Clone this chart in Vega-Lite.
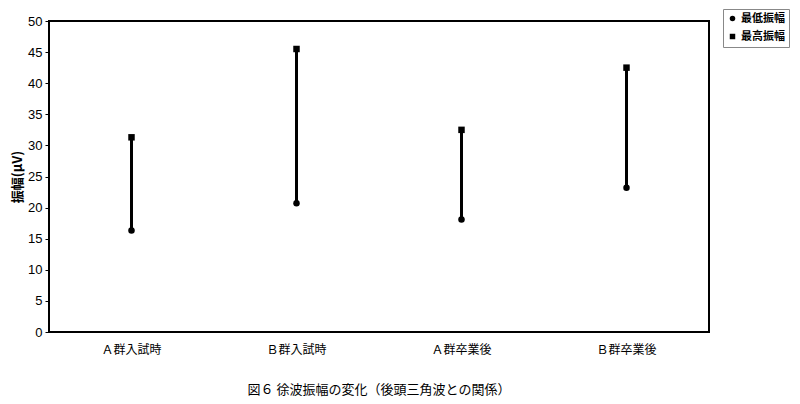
{
  "$schema": "https://vega.github.io/schema/vega-lite/v6.json",
  "width": 660,
  "height": 311,
  "autosize": "none",
  "padding": {"left": 49, "top": 21, "right": 91, "bottom": 72},
  "background": "white",
  "data": {"values": [
    {"group": "Ａ群入試時", "最低振幅": 16.3, "最高振幅": 31.3},
    {"group": "Ｂ群入試時", "最低振幅": 20.7, "最高振幅": 45.5},
    {"group": "Ａ群卒業後", "最低振幅": 18.1, "最高振幅": 32.5},
    {"group": "Ｂ群卒業後", "最低振幅": 23.2, "最高振幅": 42.5}
  ]},
  "title": {
    "text": "図６ 徐波振幅の変化（後頭三角波との関係）",
    "orient": "bottom",
    "anchor": "middle",
    "font": "Noto Sans CJK JP",
    "fontSize": 13,
    "fontWeight": "normal",
    "color": "black",
    "offset": 29
  },
  "config": {
    "view": {"stroke": "black", "strokeWidth": 2},
    "axis": {"domain": false, "grid": false, "labelColor": "black", "titleColor": "black", "tickColor": "black"}
  },
  "layer": [
    {
      "mark": {"type": "rule", "strokeWidth": 3, "color": "black"},
      "encoding": {
        "x": {"field": "group", "type": "nominal", "sort": null,
              "axis": {"title": null, "labelAngle": 0, "ticks": false, "labelPadding": 12,
                       "labelFont": "Noto Sans CJK JP", "labelFontSize": 12}},
        "y": {"field": "最低振幅", "type": "quantitative",
              "scale": {"domain": [0, 50], "nice": false},
              "axis": {"values": [0,5,10,15,20,25,30,35,40,45,50], "labelOverlap": false, "title": "振幅(μV)",
                       "titleFont": "Noto Sans CJK JP", "titleFontSize": 13, "titleFontWeight": "bold",
                       "titlePadding": 3, "labelFont": "Liberation Sans", "labelFontSize": 13,
                       "tickSize": 4, "labelPadding": 3}},
        "y2": {"field": "最高振幅"}
      }
    },
    {
      "transform": [{"fold": ["最低振幅", "最高振幅"], "as": ["series", "value"]}],
      "mark": {"type": "point", "filled": true, "opacity": 1, "color": "black"},
      "encoding": {
        "x": {"field": "group", "type": "nominal", "sort": null,
              "axis": {"title": null, "labelAngle": 0, "ticks": false, "labelPadding": 12,
                       "labelFont": "Noto Sans CJK JP", "labelFontSize": 12}},
        "y": {"field": "value", "type": "quantitative",
              "axis": {"values": [0,5,10,15,20,25,30,35,40,45,50], "labelOverlap": false, "title": "振幅(μV)",
                       "titleFont": "Noto Sans CJK JP", "titleFontSize": 13, "titleFontWeight": "bold",
                       "titlePadding": 3, "labelFont": "Liberation Sans", "labelFontSize": 13,
                       "tickSize": 4, "labelPadding": 3}},
        "shape": {"field": "series", "type": "nominal",
                  "scale": {"domain": ["最低振幅", "最高振幅"], "range": ["circle", "square"]},
                  "legend": {"title": null, "orient": "none", "legendX": 674, "legendY": -12,
                             "labelFont": "Noto Sans CJK JP", "labelFontSize": 11, "labelFontWeight": "bold",
                             "labelColor": "black", "symbolFillColor": "black", "symbolStrokeColor": "black",
                             "symbolSize": 30, "rowPadding": 5, "padding": 4,
                             "strokeColor": "#888", "fillColor": "white",
                             "labelOffset": 3}},
        "size": {"value": 42}
      }
    }
  ]
}
